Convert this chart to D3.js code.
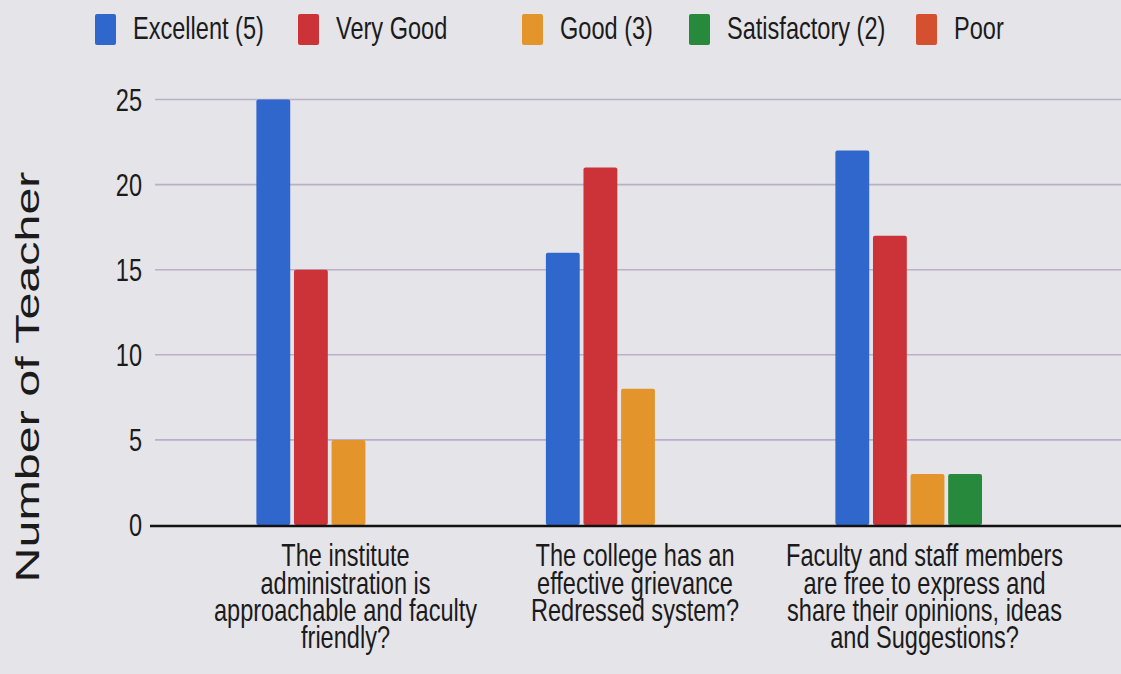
<!DOCTYPE html>
<html>
<head>
<meta charset="utf-8">
<script src="https://cdn.jsdelivr.net/npm/d3@7"></script>
<style>
  html, body { margin: 0; padding: 0; background: #e5e4e9; }
  svg { display: block; }
  .narrow { font-family: "Liberation Sans", Arial, sans-serif; fill: #1b1b1b; }
</style>
</head>
<body>
<svg id="chart" width="1121" height="674"></svg>
<script>
// ---- data ----
const categories = [
  ["The institute", "administration is", "approachable and faculty", "friendly?"],
  ["The college has an", "effective grievance", "Redressed system?"],
  ["Faculty and staff members", "are free to express and", "share their opinions, ideas", "and Suggestions?"]
];
const seriesNames = ["Excellent (5)", "Very Good", "Good (3)", "Satisfactory (2)", "Poor"];
const excellent    = [25, 16, 22];
const veryGood     = [15, 21, 17];
const good         = [5, 8, 3];
const satisfactory = [0, 0, 3];
const poor         = [0, 0, 0];
const yTicks = [0, 5, 10, 15, 20, 25];
const yTitle = "Number of Teacher";

// ---- styles / layout ----
const colors = ["#2f67cc", "#cc3338", "#e3952c", "#27893c", "#d4502f"];
const legendX = [95, 298, 522, 689, 916];
const W = 1121, H = 674;
const sx = 0.76;   // text appears horizontally condensed in the reference

const svg = d3.select("#chart");
svg.append("rect").attr("width", W).attr("height", H).attr("fill", "#e5e4e9");

const values = [excellent, veryGood, good, satisfactory, poor];
const catIdx = categories.map((d, i) => i);

const x = d3.scaleBand().domain(catIdx).range([203.75, 1072.25]).padding(0);
const xi = d3.scaleBand().domain(d3.range(seriesNames.length))
  .range([-94, 94]).paddingInner(0.1).paddingOuter(0.05);
const y = d3.scaleLinear().domain([0, 25]).range([525, 99.5]);

// gridlines
svg.append("g").selectAll("line").data(yTicks.filter(t => t > 0)).join("line")
  .attr("x1", 155).attr("x2", W)
  .attr("y1", d => y(d)).attr("y2", d => y(d))
  .attr("stroke", "#b8afc8").attr("stroke-width", 1.6);

// y tick labels
svg.append("g").selectAll("text").data(yTicks).join("text")
  .attr("class", "narrow")
  .attr("transform", d => `translate(142,${y(d)}) scale(${sx},1)`)
  .attr("text-anchor", "end")
  .attr("dy", "0.36em")
  .attr("font-size", 31)
  .text(d => d);

// bars
const groups = svg.append("g").selectAll("g").data(catIdx).join("g")
  .attr("transform", i => `translate(${x(i) + x.bandwidth() / 2},0)`);
groups.selectAll("rect")
  .data(i => values.map((s, k) => ({ k, v: s[i] })).filter(d => d.v > 0))
  .join("rect")
  .attr("x", d => xi(d.k))
  .attr("width", xi.bandwidth())
  .attr("y", d => y(d.v))
  .attr("height", d => y(0) - y(d.v))
  .attr("rx", 2)
  .attr("fill", d => colors[d.k]);

// baseline
svg.append("line").attr("x1", 150).attr("x2", W)
  .attr("y1", y(0) + 1).attr("y2", y(0) + 1)
  .attr("stroke", "#111").attr("stroke-width", 2.6);

// category labels (one text per category, one tspan per line)
svg.append("g").selectAll("text").data(catIdx).join("text")
  .attr("class", "narrow")
  .attr("transform", i => `translate(${x(i) + x.bandwidth() / 2 - 3},566) scale(${sx},1)`)
  .attr("text-anchor", "middle")
  .attr("font-size", 31)
  .each(function (i) {
    d3.select(this).selectAll("tspan").data(categories[i]).join("tspan")
      .attr("x", 0)
      .attr("y", (d, j) => j * 27.5)
      .text(d => d);
  });

// y title
svg.append("text")
  .attr("transform", `translate(39,377) rotate(-90)`)
  .attr("text-anchor", "middle")
  .attr("font-family", "'Liberation Sans', Arial, sans-serif")
  .attr("font-size", 34)
  .attr("fill", "#1b1b1b")
  .attr("textLength", 411)
  .attr("lengthAdjust", "spacingAndGlyphs")
  .text(yTitle);

// legend
const leg = svg.append("g").selectAll("g").data(seriesNames).join("g")
  .attr("transform", (d, i) => `translate(${legendX[i]},0)`);
leg.append("rect").attr("x", 0).attr("y", 14).attr("width", 21).attr("height", 31)
  .attr("rx", 2).attr("fill", (d, i) => colors[i]);
leg.append("text")
  .attr("class", "narrow")
  .attr("transform", `translate(38,39) scale(${sx},1)`)
  .attr("font-size", 31)
  .text(d => d);
</script>
</body>
</html>
